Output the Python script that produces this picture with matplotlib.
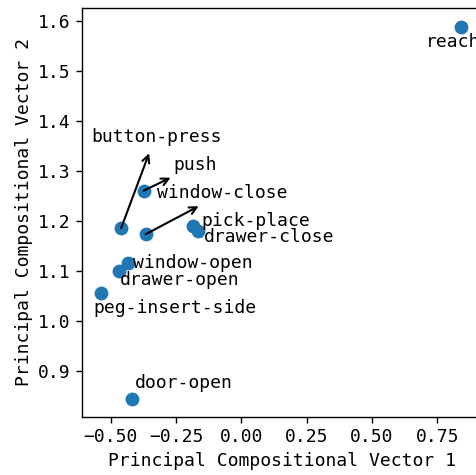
import matplotlib
matplotlib.use("Agg")
import matplotlib.pyplot as plt

plt.rcParams['font.family'] = ['DejaVu Sans Mono']
plt.rcParams['font.size'] = 13

# task embeddings on the first two principal compositional vectors
tasks = ['reach', 'button-press', 'push', 'window-close', 'pick-place',
         'drawer-close', 'window-open', 'drawer-open', 'peg-insert-side', 'door-open']
pc1 = [0.841, -0.460, -0.374, -0.366, -0.186, -0.167, -0.432, -0.467, -0.538, -0.419]
pc2 = [1.587, 1.185, 1.260, 1.173, 1.189, 1.179, 1.115, 1.100, 1.055, 0.843]

# label placement (pixel offsets from the point, left edge / vertical centre)
label_off = {
    'reach': (-35, -15), 'button-press': (-30, 91), 'push': (30, 26),
    'window-close': (11, 41), 'pick-place': (9, 5), 'drawer-close': (6, -6),
    'window-open': (5, 0), 'drawer-open': (1, -9), 'peg-insert-side': (-7, -15),
    'door-open': (3, 16),
}
# arrow heads (pixel offsets from the point) for the moved labels
arrow_off = {'button-press': (28, 75), 'push': (27, 13), 'window-close': (53, 28)}

fig = plt.figure(figsize=(4.77, 4.75), dpi=100)
ax = fig.add_axes([82 / 477, 58 / 475, 400 / 477, 409 / 475])

ax.scatter(pc1, pc2, s=80, color='#1f77b4', zorder=3)

for name, x, y in zip(tasks, pc1, pc2):
    dx, dy = label_off[name]
    ax.annotate(name, (x, y), xytext=(dx, dy), textcoords='offset pixels',
                ha='left', va='center')
    if name in arrow_off:
        ax.annotate('', (x, y), xytext=arrow_off[name], textcoords='offset pixels',
                    arrowprops=dict(arrowstyle='<-', color='black', lw=1.5,
                                    shrinkA=0, shrinkB=0))

ax.set_xlim(-0.6097, 0.921)
ax.set_ylim(0.8074, 1.6254)
ax.set_xticks([-0.5, -0.25, 0.0, 0.25, 0.5, 0.75])
ax.set_yticks([0.9, 1.0, 1.1, 1.2, 1.3, 1.4, 1.5, 1.6])
ax.tick_params(length=4.5, width=1.0)
for sp in ax.spines.values():
    sp.set_linewidth(1.0)
ax.set_xlabel('Principal Compositional Vector 1')
ax.set_ylabel('Principal Compositional Vector 2')

fig.savefig('out.png', dpi=100)
